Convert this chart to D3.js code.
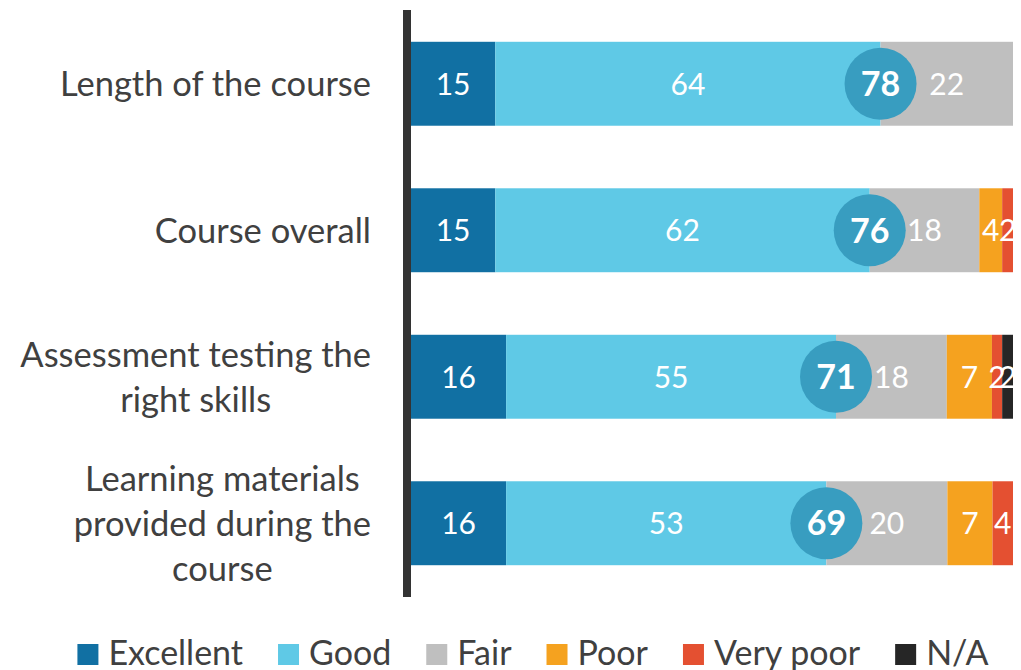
<!DOCTYPE html>
<html>
<head>
<meta charset="utf-8">
<script src="https://cdn.jsdelivr.net/npm/d3@7"></script>
<style>
  body { margin: 0; background: #fff; }
  text { font-family: Lato, "Open Sans", sans-serif; }
</style>
</head>
<body>
<div id="chart"></div>
<script>
// categories, one entry per bar (lines as wrapped in the original)
var categories = [
  ["Length of the course"],
  ["Course overall"],
  ["Assessment testing the", "right skills"],
  ["Learning materials", "provided during the", "course"]
];

var seriesNames = ["Excellent", "Good", "Fair", "Poor", "Very poor", "N/A"];
var seriesColors = ["#1170a3", "#5fc9e6", "#bfbfbf", "#f5a21f", "#e45031", "#262626"];

// segment widths (percent)
var excellent = [14.0, 14.0, 15.8, 15.8];
var good = [64.0, 62.2, 54.8, 53.2];
var fair = [22.0, 18.2, 18.4, 20.1];
var poor = [0, 3.8, 7.5, 7.5];
var veryPoor = [0, 1.8, 1.7, 3.4];
var notApplicable = [0, 0, 1.8, 0];

// printed labels on the segments
var excellentLabels = [15, 15, 16, 16];
var goodLabels = [64, 62, 55, 53];
var fairLabels = [22, 18, 18, 20];
var poorLabels = [null, 4, 7, 7];
var veryPoorLabels = [null, 2, 2, 4];
var naLabels = [null, null, 2, null];

// excellent + good, shown in the circle
var netPositive = [78, 76, 71, 69];

var svgWidth = 1021;
var svgHeight = 670;

var svg = d3.select("#chart")
  .append("svg")
  .attr("width", svgWidth)
  .attr("height", svgHeight);

var series = [excellent, good, fair, poor, veryPoor, notApplicable];
var labels = [excellentLabels, goodLabels, fairLabels, poorLabels, veryPoorLabels, naLabels];

var table = categories.map(function (c, i) {
  var row = { idx: i };
  seriesNames.forEach(function (k, j) { row[k] = series[j][i]; });
  return row;
});

var stacked = d3.stack().keys(seriesNames)(table);

var x = d3.scaleLinear().domain([0, 100]).range([411, 1013]);
var y = d3.scaleBand()
  .domain(d3.range(categories.length))
  .range([10, 597])
  .paddingInner(0.427)
  .paddingOuter(0.217);

// bars
var layers = svg.append("g").selectAll("g")
  .data(stacked)
  .enter().append("g")
  .attr("fill", function (d, i) { return seriesColors[i]; });

layers.selectAll("rect")
  .data(function (d) { return d; })
  .enter().append("rect")
  .attr("x", function (d) { return x(d[0]); })
  .attr("y", function (d) { return y(d.data.idx); })
  .attr("width", function (d) { return Math.max(0, x(d[1]) - x(d[0])); })
  .attr("height", y.bandwidth());

// segment labels
stacked.forEach(function (layer, j) {
  svg.append("g").selectAll("text")
    .data(layer.filter(function (d) { return labels[j][d.data.idx] != null; }))
    .enter().append("text")
    .attr("x", function (d) { return (x(d[0]) + x(d[1])) / 2; })
    .attr("y", function (d) { return y(d.data.idx) + y.bandwidth() / 2; })
    .attr("dy", "0.36em")
    .attr("text-anchor", "middle")
    .attr("fill", "#fff")
    .style("font-size", "30px")
    .text(function (d) { return labels[j][d.data.idx]; });
});

// circles at the good/fair boundary
var circ = svg.append("g").selectAll("g")
  .data(stacked[1])
  .enter().append("g")
  .attr("transform", function (d) {
    return "translate(" + x(d[1]) + "," + (y(d.data.idx) + y.bandwidth() / 2) + ")";
  });

circ.append("circle")
  .attr("r", 36)
  .attr("fill", "#389dc0");

circ.append("text")
  .attr("text-anchor", "middle")
  .attr("dy", "0.36em")
  .attr("fill", "#fff")
  .style("font-size", "34px")
  .style("font-weight", "bold")
  .text(function (d) { return netPositive[d.data.idx]; });

// vertical axis line
svg.append("rect")
  .attr("x", 403)
  .attr("y", 10)
  .attr("width", 8)
  .attr("height", 587)
  .attr("fill", "#333");

// category labels: lines centred in a block that is right aligned
var lineHeight = 45;
var labelRight = 371;
categories.forEach(function (lines, i) {
  var g = svg.append("g");
  var cy = y(i) + y.bandwidth() / 2;
  var texts = lines.map(function (line, k) {
    return g.append("text")
      .attr("y", cy + (k - (lines.length - 1) / 2) * lineHeight)
      .attr("dy", "0.36em")
      .attr("text-anchor", "middle")
      .attr("fill", "#404040")
      .style("font-size", "34.5px")
      .text(line);
  });
  var w = d3.max(texts, function (t) { return t.node().getComputedTextLength(); });
  texts.forEach(function (t) { t.attr("x", labelRight - w / 2); });
});

// legend
var legend = svg.append("g");
var lx = 0;
seriesNames.forEach(function (name, i) {
  var item = legend.append("g").attr("transform", "translate(" + lx + ",0)");
  item.append("rect")
    .attr("x", 0)
    .attr("y", 644)
    .attr("width", 21)
    .attr("height", 21)
    .attr("fill", seriesColors[i]);
  var t = item.append("text")
    .attr("x", 31)
    .attr("y", 665)
    .attr("fill", "#404040")
    .style("font-size", "34px")
    .text(name);
  lx += 31 + t.node().getComputedTextLength() + 35;
});
var legendWidth = lx - 35;
legend.attr("transform", "translate(" + (533 - legendWidth / 2) + ",0)");
</script>
</body>
</html>
